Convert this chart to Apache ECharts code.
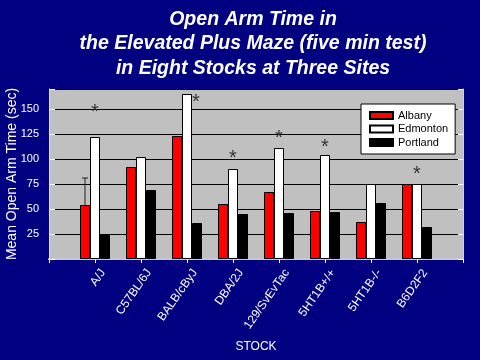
<!DOCTYPE html>
<html><head><meta charset="utf-8">
<script src="https://cdn.jsdelivr.net/npm/echarts@6/dist/echarts.min.js"></script>
<style>html,body{margin:0;padding:0;background:#000080;}#c{width:480px;height:360px;}</style>
</head><body><div id="c"></div>
<script>
const categories = ['A/J','C57BL/6J','BALB/cByJ','DBA/2J','129/SvEvTac','5HT1B+/+','5HT1B-/-','B6D2F2'];
const albany   = [54, 92, 123, 55, 67, 48, 37, 75];
const edmonton = [122, 102, 165, 90, 111, 104, 75, 75];
const portland = [25, 69, 36, 45, 46, 47, 56, 32];
const albanyErr = [27, null, null, null, null, null, null, null];
const starY = [151, null, 161, 105, 125, 116, null, 89];
const yTicks = [25, 50, 75, 100, 125, 150];

const pad = a => [null].concat(a, [null]);
const cats = [''].concat(categories, ['']);
const errData = [];
albanyErr.forEach((e, i) => { if (e != null) errData.push([i + 1, albany[i], e]); });
const starData = [];
starY.forEach((v, i) => { if (v != null) starData.push([i + 1, v, i === 2 ? 1 : 0]); });

const chart = echarts.init(document.getElementById('c'));
const barStyle = c => ({ color: c, borderColor: '#000', borderWidth: 1 });
chart.setOption({
  backgroundColor: '#000080',
  animation: false,
  title: {
    text: 'Open Arm Time in\nthe Elevated Plus Maze (five min test)\nin Eight Stocks at Three Sites',
    left: 248, top: 2, textAlign: 'center',
    textStyle: { color: '#fff', fontFamily: 'Liberation Sans', fontWeight: 'bold', fontStyle: 'italic', fontSize: 19.5, lineHeight: 24.5 }
  },
  legend: {
    orient: 'vertical', left: 361, top: 104, icon: 'rect',
    backgroundColor: '#fff', borderColor: '#000', borderWidth: 1, borderRadius: 0,
    padding: [6, 7, 6, 8], itemWidth: 23, itemHeight: 7, itemGap: 2.5,
    textStyle: { color: '#000', fontFamily: 'Liberation Sans', fontSize: 11, lineHeight: 11 },
    data: ['Albany', 'Edmonton', 'Portland']
  },
  grid: { left: 49, right: 17, top: 89, bottom: 101, containLabel: false, outerBoundsMode: 'none',
    show: true, backgroundColor: '#c0c0c0', borderWidth: 0 },
  xAxis: [{
    type: 'category', data: cats, boundaryGap: false,
    name: 'STOCK', nameLocation: 'middle', nameGap: 82, nameMoveOverlap: false,
    nameTextStyle: { color: '#fff', fontFamily: 'Liberation Sans', fontSize: 12 },
    axisLine: { lineStyle: { color: '#fff', width: 1 } },
    axisTick: { show: false },
    axisLabel: { color: '#fff', fontFamily: 'Liberation Sans', fontSize: 12, rotate: 55, interval: 0, margin: 23,
      padding: [0, -14, 0, 0] },
    splitLine: { show: false }
  }, {
    type: 'category', data: cats, boundaryGap: false, position: 'top',
    axisLine: { lineStyle: { color: '#c8c8c8', width: 2 } },
    axisTick: { show: true, inside: true, length: 4, interval: 0, lineStyle: { color: '#fff' } },
    axisLabel: { show: false }, splitLine: { show: false }
  }],
  yAxis: [{
    type: 'value', min: 0, max: 170, interval: 25,
    name: 'Mean Open Arm Time (sec)', nameLocation: 'middle', nameGap: 30, nameMoveOverlap: false,
    nameTextStyle: { color: '#fff', fontFamily: 'Liberation Sans', fontSize: 14 },
    axisLine: { show: true, lineStyle: { color: '#e0e0e0' } },
    axisTick: { show: true, inside: true, length: 6, lineStyle: { color: '#fff' } },
    axisLabel: { color: '#fff', fontFamily: 'Liberation Sans', fontSize: 11, margin: 10,
      formatter: v => yTicks.indexOf(v) >= 0 ? String(v) : '' },
    splitLine: { show: true, lineStyle: { color: '#000', width: 1 } }
  }, {
    type: 'value', min: 0, max: 170, interval: 25, position: 'right',
    axisLine: { show: true, lineStyle: { color: '#d0d0d0' } },
    axisTick: { show: true, inside: true, length: 5, lineStyle: { color: '#fff' } },
    axisLabel: { show: false }, splitLine: { show: false }
  }],
  series: [
    { name: 'Albany', type: 'bar', data: pad(albany), barWidth: 10, barGap: '0%', itemStyle: barStyle('#ff0000') },
    { name: 'Edmonton', type: 'bar', data: pad(edmonton), barWidth: 10, barGap: '0%', itemStyle: barStyle('#ffffff') },
    { name: 'Portland', type: 'bar', data: pad(portland), barWidth: 10, barGap: '0%', itemStyle: barStyle('#000000') },
    { type: 'custom', data: errData, z: 5,
      renderItem: (params, api) => {
        const p0 = api.coord([api.value(0), api.value(1)]);
        const p1 = api.coord([api.value(0), api.value(1) + api.value(2)]);
        const x = p0[0] - 10;
        return { type: 'group', children: [
          { type: 'line', shape: { x1: x, y1: p0[1], x2: x, y2: p1[1] }, style: { stroke: '#222', lineWidth: 1 } },
          { type: 'line', shape: { x1: x - 3, y1: p1[1], x2: x + 3, y2: p1[1] }, style: { stroke: '#222', lineWidth: 1 } }
        ]};
      }
    },
    { type: 'custom', data: starData, z: 6,
      renderItem: (params, api) => {
        const p = api.coord([api.value(0), api.value(1)]);
        const dx = api.value(2) ? 9 : 0;
        return { type: 'text', x: p[0] + dx, y: p[1] + 4, style: { text: '*', fill: '#333', fontSize: 20, fontFamily: 'Liberation Sans', align: 'center', verticalAlign: 'middle' } };
      }
    }
  ]
});
</script></body></html>
